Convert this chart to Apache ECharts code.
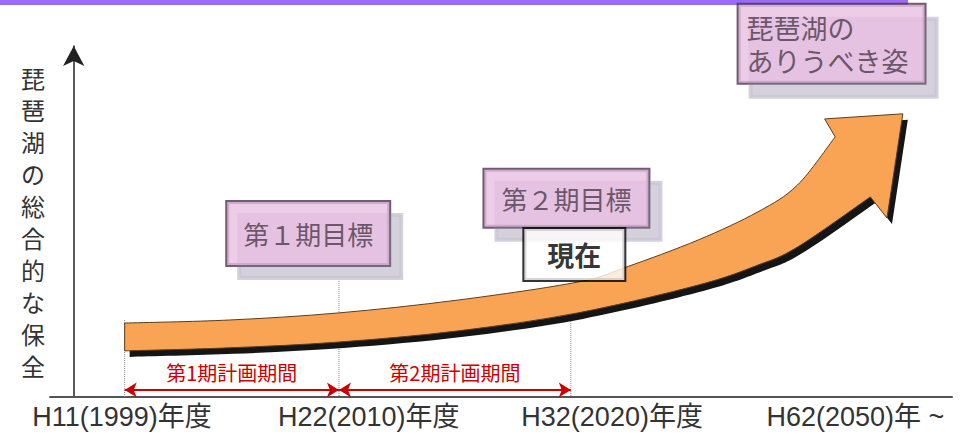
<!DOCTYPE html>
<html><head><meta charset="utf-8">
<script src="https://cdn.jsdelivr.net/npm/echarts@6/dist/echarts.min.js"></script>
<style>html,body{margin:0;padding:0;background:#fff}#c{width:964px;height:435px}</style>
</head><body><div id="c"></div>
<script>
// ---- data (diagram units) ----
const yAxisTitle = '琵琶湖の総合的な保全';
const tickLabels = ['H11(1999)年度', 'H22(2010)年度', 'H32(2020)年度', 'H62(2050)年 ~'];
const tickPositions = [5.5, 33.6, 61.3, 89.0];
const boundaries = [5.8, 30.2, 56.6];
const boundaryTops = [22.7, 34.2, 34.2];
const periodLabels = ['第1期計画期間', '第2期計画期間'];
const periodLevel = 2.1;
// big curved arrow: upper edge, lower edge, head (barb, tip, barb)
const arrowTopX = [5.8, 17.7, 30.2, 43.8, 57.4, 62.9, 71.1, 77.9, 82.4, 86.7];
const arrowTopY = [21.8, 22.7, 24.8, 28.6, 33.9, 38.3, 46.3, 54.6, 62.5, 76.7];
const arrowBottomX = [5.8, 17.7, 30.2, 43.8, 57.4, 71.1, 77.9, 82.4, 90.7];
const arrowBottomY = [13.6, 14.5, 16.2, 19.5, 24.8, 33.0, 38.9, 44.2, 59.0];
const arrowHeadX = [85.5, 94.4, 92.6];
const arrowHeadY = [82.0, 83.5, 52.8];
// annotation boxes
const goalLabels = ['第１期目標', '第２期目標', '現在', '琵琶湖の\nありうべき姿'];
const goalX = [26.7, 56.1, 57.0, 75.7];
const goalY = [48.2, 58.6, 42.0, 104.2];

const CJK = "'Noto Sans CJK JP', sans-serif";
const LAT = "'Liberation Sans', Arial, 'Noto Sans CJK JP', sans-serif";

function smoothPath(pts) {
  let s = '';
  for (let i = 0; i < pts.length - 1; i++) {
    const p0 = pts[Math.max(i - 1, 0)], p1 = pts[i], p2 = pts[i + 1], p3 = pts[Math.min(i + 2, pts.length - 1)];
    const c1 = [p1[0] + (p2[0] - p0[0]) / 6, p1[1] + (p2[1] - p0[1]) / 6];
    const c2 = [p2[0] - (p3[0] - p1[0]) / 6, p2[1] - (p3[1] - p1[1]) / 6];
    s += ' C' + c1[0] + ' ' + c1[1] + ' ' + c2[0] + ' ' + c2[1] + ' ' + p2[0] + ' ' + p2[1];
  }
  return s;
}

const boxStyles = [
  {width: 162, lineHeight: 63, fontSize: 26, color: '#4a3a4a', backgroundColor: '#e9bfe2', borderColor: '#4d3550', borderWidth: 2, shadowColor: '#c9c5d3', shadowOffsetX: 12, shadowOffsetY: 13, align: 'center'},
  {width: 164, lineHeight: 57, fontSize: 26, color: '#4a3a4a', backgroundColor: '#e9bfe2', borderColor: '#4d3550', borderWidth: 2, shadowColor: '#c9c5d3', shadowOffsetX: 12, shadowOffsetY: 13, align: 'center'},
  {width: 100, lineHeight: 51, fontSize: 27, fontWeight: 'bold', color: '#000', backgroundColor: '#fff', borderColor: '#000', borderWidth: 2, align: 'center'},
  {width: 176, lineHeight: 33, padding: [6, 2, 6, 8], fontSize: 27, color: '#4a3a4a', backgroundColor: '#e9bfe2', borderColor: '#4d3550', borderWidth: 2, shadowColor: '#c9c5d3', shadowOffsetX: 12, shadowOffsetY: 14, align: 'left'}
];

const boundarySeries = boundaries.map((b, i) => ({
  type: 'line', z: 1, silent: true, symbol: 'none',
  data: [[b, boundaryTops[i]], [b, 0]],
  lineStyle: {color: '#888', width: 1, type: 'dotted'},
  markLine: i === 0 ? {
    silent: true, symbol: ['arrow', 'arrow'], symbolSize: [11, 12],
    lineStyle: {color: '#cc0000', width: 2, type: 'solid'},
    emphasis: {disabled: true},
    label: {show: true, position: 'middle', distance: 7, color: '#cc0000', fontSize: 20, fontFamily: CJK,
      formatter: p => periodLabels[p.dataIndex]},
    data: [
      [{coord: [boundaries[0], periodLevel]}, {coord: [boundaries[1], periodLevel]}],
      [{coord: [boundaries[1], periodLevel]}, {coord: [boundaries[2], periodLevel]}]
    ]
  } : undefined
}));

const option = {
  animation: false,
  graphic: [{type: 'rect', left: 0, top: 0, shape: {width: 908, height: 5}, style: {fill: '#9b6bf7'}}],
  grid: {left: 50, right: 12, top: 46, bottom: 38, containLabel: false, outerBoundsMode: 'none'},
  xAxis: {
    type: 'value', min: -2.7, max: 100,
    axisLine: {show: true, onZero: true, lineStyle: {color: '#555', width: 2}},
    axisTick: {show: false}, splitLine: {show: false},
    axisLabel: {
      show: true, customValues: tickPositions, margin: 6, fontSize: 27, color: '#333', fontFamily: LAT,
      formatter: v => {
        let k = 0;
        tickPositions.forEach((t, i) => { if (Math.abs(t - v) < Math.abs(tickPositions[k] - v)) k = i; });
        return tickLabels[k];
      }
    }
  },
  yAxis: {
    type: 'value', min: 0, max: 103.5,
    name: yAxisTitle.split('').join('\n'), nameLocation: 'middle', nameRotate: 0, nameGap: 5,
    nameTextStyle: {fontSize: 24, lineHeight: 32, color: '#333', fontFamily: CJK, padding: [12, 0, 0, 0]},
    axisLine: {show: true, onZero: true, symbol: ['none', 'arrow'], symbolSize: [16, 20], lineStyle: {color: '#222', width: 1.5}},
    axisTick: {show: false}, splitLine: {show: false}, axisLabel: {show: false}
  },
  series: boundarySeries.concat([
    {
      type: 'custom', z: 2, silent: true, clip: false,
      data: [[arrowTopX[0], arrowTopY[0]]],
      renderItem: (params, api) => {
        const top = arrowTopX.map((x, i) => api.coord([x, arrowTopY[i]]));
        const bot = arrowBottomX.map((x, i) => api.coord([x, arrowBottomY[i]])).reverse();
        const head = arrowHeadX.map((x, i) => api.coord([x, arrowHeadY[i]]));
        const d = 'M' + top[0][0] + ' ' + top[0][1] + smoothPath(top) +
          head.map(p => ' L' + p[0] + ' ' + p[1]).join('') +
          ' L' + bot[0][0] + ' ' + bot[0][1] + smoothPath(bot) + ' Z';
        return {type: 'group', children: [
          {type: 'path', x: 5, y: 6, shape: {pathData: d}, style: {fill: '#151515'}},
          {type: 'path', shape: {pathData: d}, style: {fill: '#f9a454', stroke: '#5c3d1e', lineWidth: 1}}
        ]};
      }
    },
    {
      type: 'scatter', z: 3, silent: true, clip: false, symbolSize: 0,
      data: goalLabels.map((t, i) => ({
        value: [goalX[i], goalY[i]], name: t,
        label: Object.assign({show: true, position: 'inside', verticalAlign: 'middle', formatter: t, fontFamily: CJK}, boxStyles[i])
      }))
    }
  ])
};
const chart = echarts.init(document.getElementById('c'), null, {renderer: 'svg'});
chart.setOption(option);
</script>
</body></html>
